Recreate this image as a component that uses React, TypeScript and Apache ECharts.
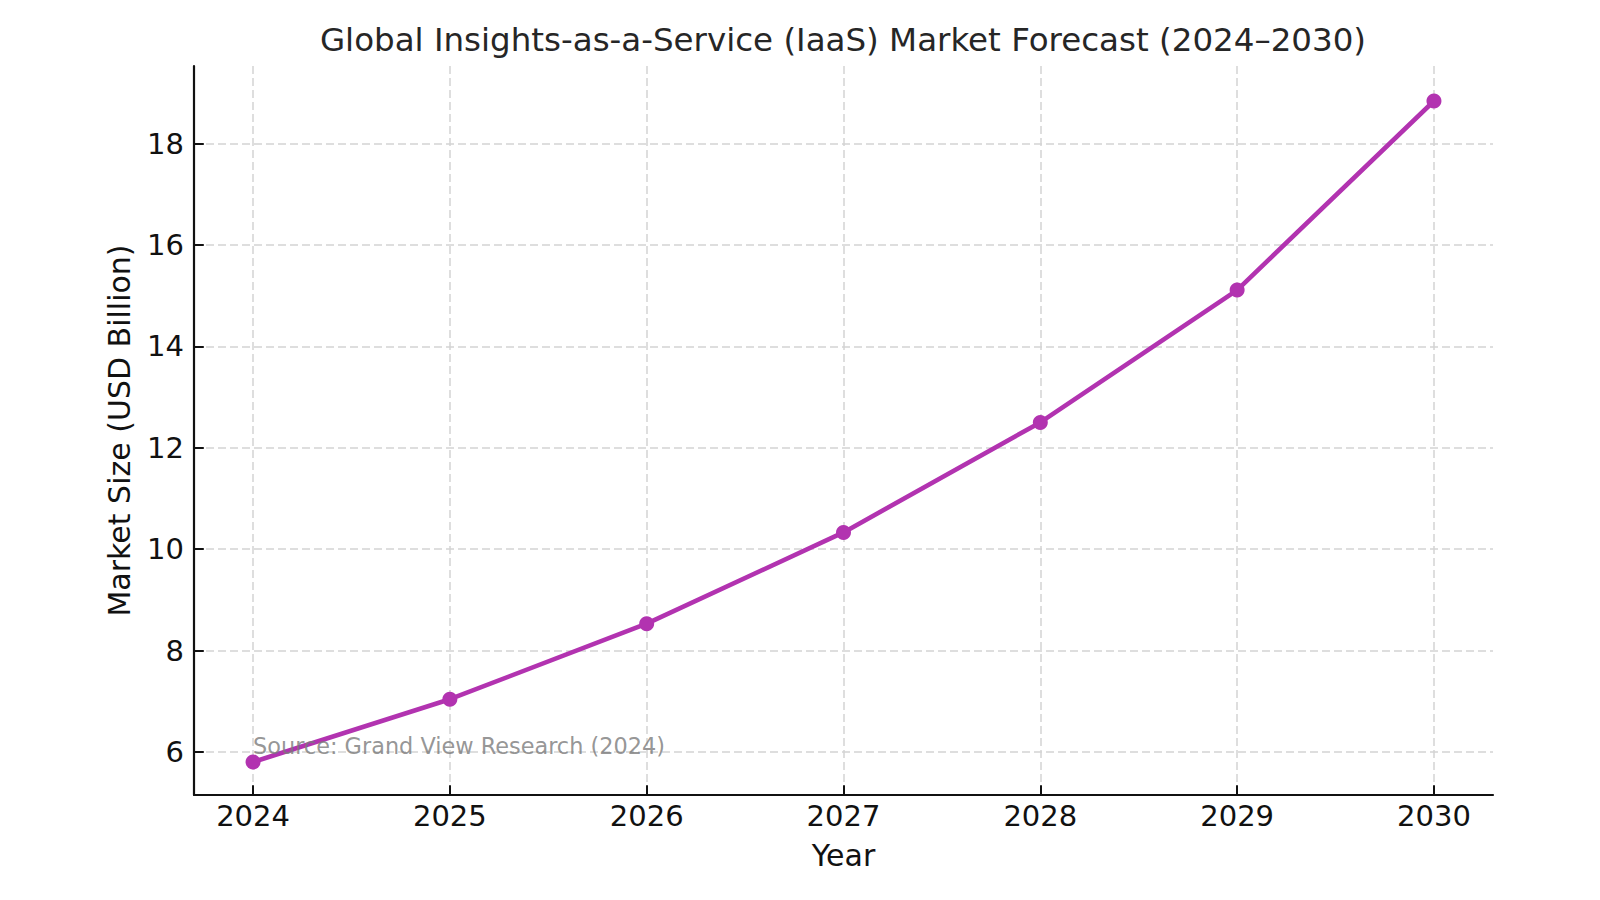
import { useEffect, useRef } from "react";
import * as echarts from "echarts";

// Market size forecast, USD billion
const years = [2024, 2025, 2026, 2027, 2028, 2029, 2030];
const marketSize = [5.8, 7.04, 8.53, 10.33, 12.5, 15.11, 18.84];
const yTicks = [6, 8, 10, 12, 14, 16, 18];

const titleText = "Global Insights-as-a-Service (IaaS) Market Forecast (2024–2030)";
const xAxisName = "Year";
const yAxisName = "Market Size (USD Billion)";
const sourceNote = "Source: Grand View Research (2024)";
const sourceAnchor = [2024, 6];

const FONT = "DejaVu Sans";
const LINE_COLOR = "#b233b0";
const GRID_COLOR = "#d4d4d4";

export default function App() {
  const ref = useRef<HTMLDivElement>(null);

  useEffect(() => {
    const el = ref.current;
    if (!el) return;
    const chart = echarts.init(el, null, { renderer: "svg" });

    const points = years.map((y, i) => [y, marketSize[i]]);

    chart.setOption({
      animation: false,
      backgroundColor: "#ffffff",
      textStyle: { fontFamily: FONT },
      title: {
        text: titleText,
        left: 838,
        top: 18,
        textAlign: "center",
        textStyle: {
          fontFamily: FONT,
          fontSize: 32.5,
          fontWeight: "normal",
          color: "#262626",
        },
      },
      grid: { left: 194, right: 107, top: 66, bottom: 105, containLabel: false },
      xAxis: {
        type: "value",
        min: 2023.7,
        max: 2030.3,
        name: xAxisName,
        nameLocation: "middle",
        nameGap: 45,
        nameTextStyle: { fontFamily: FONT, fontSize: 30, color: "#111" },
        axisLine: { show: true, onZero: false, lineStyle: { color: "#111", width: 2.2 } },
        axisTick: {
          show: true,
          inside: true,
          length: 9.8,
          customValues: years,
          lineStyle: { color: "#111", width: 2 },
        },
        axisLabel: {
          customValues: years,
          fontFamily: FONT,
          fontSize: 29,
          color: "#111",
          margin: 6,
          formatter: (v: number) => String(v),
        },
        splitLine: {
          show: true,
          lineStyle: { color: GRID_COLOR, width: 1.5, type: [8, 4] },
        },
      },
      yAxis: {
        type: "value",
        min: 5.15,
        max: 19.53,
        name: yAxisName,
        nameLocation: "middle",
        nameGap: 60,
        nameTextStyle: { fontFamily: FONT, fontSize: 30, color: "#111" },
        axisLine: { show: true, onZero: false, lineStyle: { color: "#111", width: 2.2 } },
        axisTick: {
          show: true,
          inside: true,
          length: 9.8,
          customValues: yTicks,
          lineStyle: { color: "#111", width: 2 },
        },
        axisLabel: {
          customValues: yTicks,
          fontFamily: FONT,
          fontSize: 29,
          color: "#111",
          margin: 10,
        },
        splitLine: {
          show: true,
          lineStyle: { color: GRID_COLOR, width: 1.5, type: [8, 4] },
        },
      },
      series: [
        {
          name: "Market Size",
          type: "line",
          data: points,
          symbol: "circle",
          symbolSize: 15,
          lineStyle: { color: LINE_COLOR, width: 4.6 },
          itemStyle: { color: LINE_COLOR },
          z: 3,
        },
        {
          name: "source",
          type: "scatter",
          data: [sourceAnchor],
          symbolSize: 0,
          silent: true,
          z: 4,
          label: {
            show: true,
            position: [0, 5],
            align: "left",
            verticalAlign: "bottom",
            formatter: () => sourceNote,
            fontFamily: FONT,
            fontSize: 22.4,
            color: "#7a7a7a",
          },
        },
      ],
    });

    return () => {
      chart.dispose();
    };
  }, []);

  return (
    <div
      ref={ref}
      style={{ position: "fixed", left: 0, top: 0, width: 1600, height: 900, background: "#fff" }}
    />
  );
}
